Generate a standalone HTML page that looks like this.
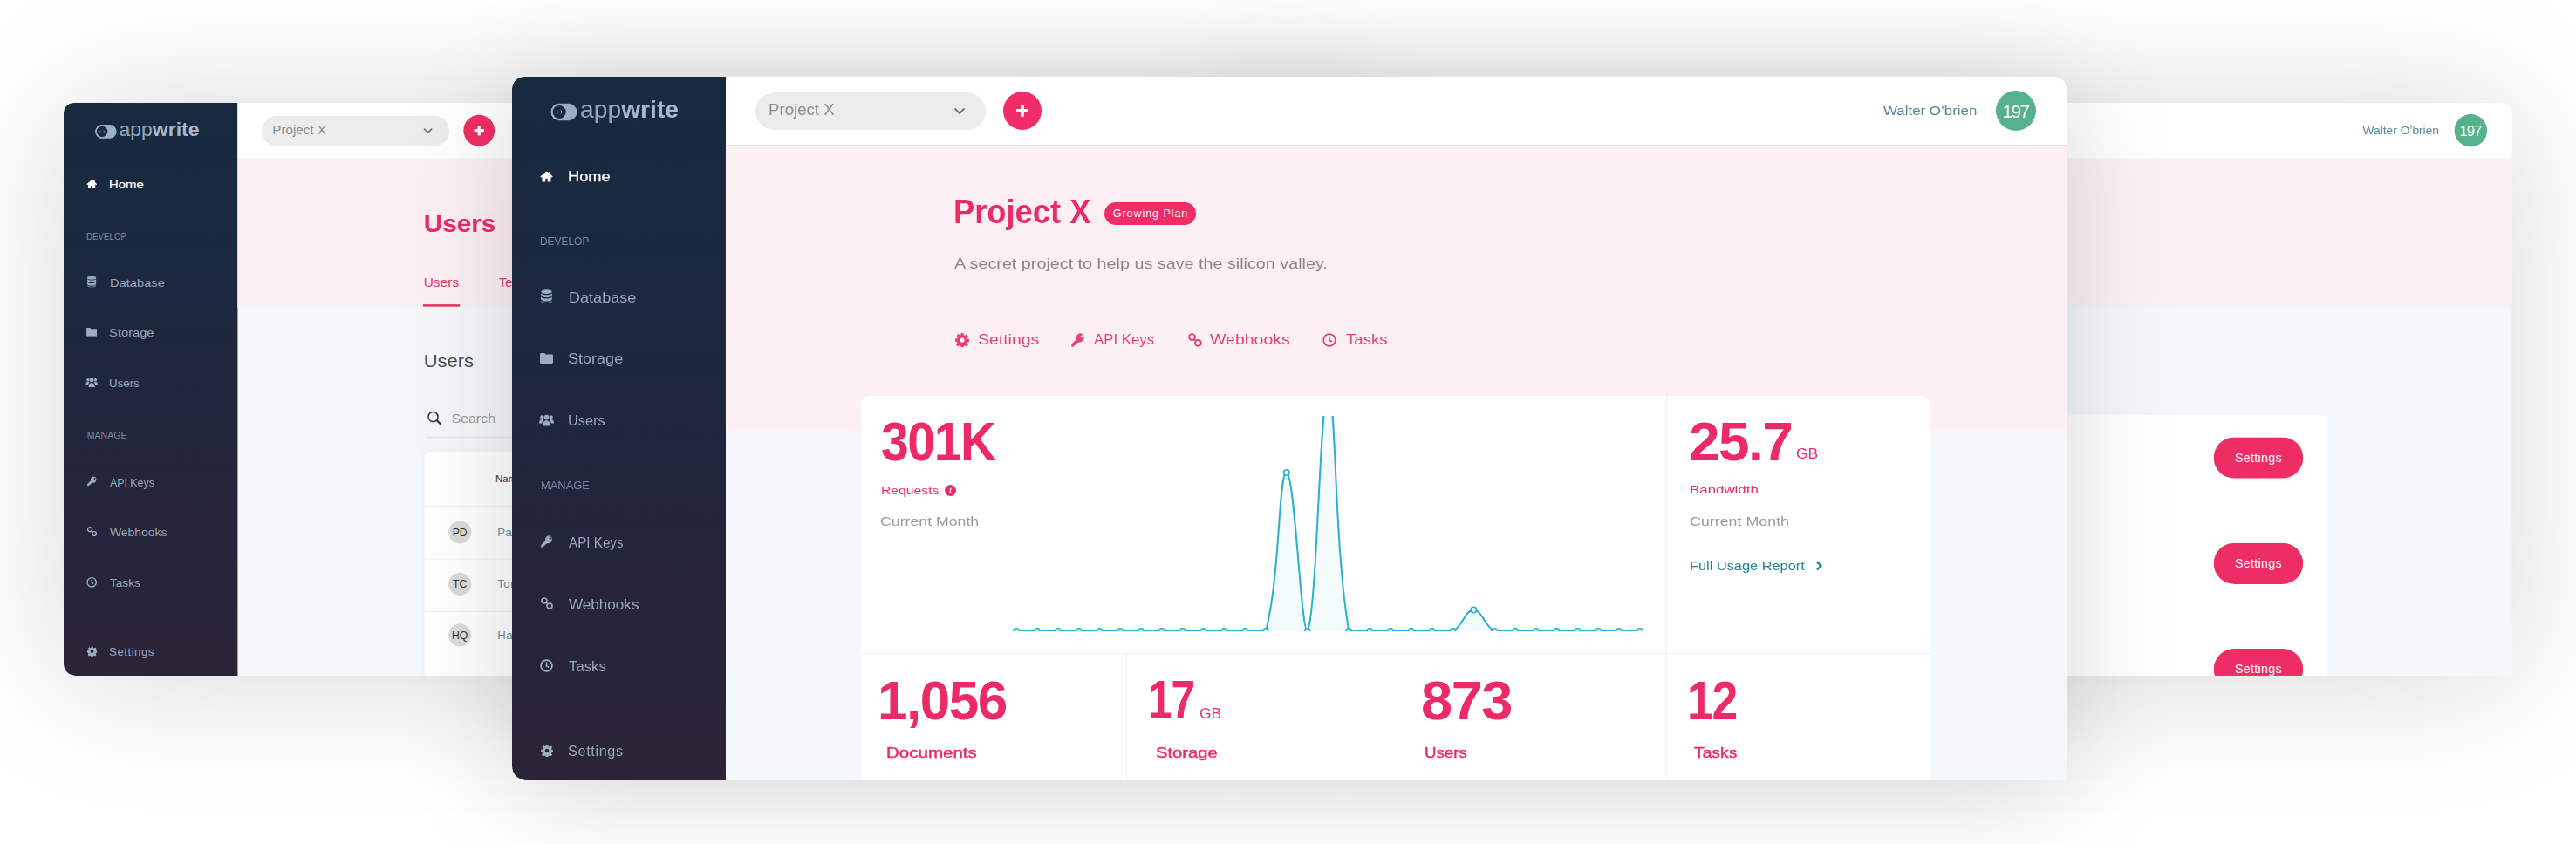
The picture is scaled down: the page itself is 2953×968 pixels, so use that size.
<!DOCTYPE html>
<html><head><meta charset="utf-8">
<style>
*{box-sizing:border-box;margin:0;padding:0}
html,body{width:2953px;height:968px;overflow:hidden;background:#fff;font-family:"Liberation Sans",Arial,sans-serif}
.win{position:absolute;width:1782px;height:807px;overflow:hidden;border-radius:14px 14px 0 16px;background:#f5f8fb;box-shadow:0 12px 130px rgba(0,0,0,.16)}
.back{box-shadow:0 6px 200px rgba(0,0,0,.155)}
.back{transform:scale(.814);transform-origin:0 0}
.side{position:absolute;left:0;top:0;width:245px;height:807px;border-radius:14px 0 0 16px;background:linear-gradient(180deg,#172a40 0%,#1c283d 35%,#242539 70%,#2c2437 100%);overflow:hidden}
.hdr{position:absolute;left:245px;top:0;right:0;height:79px;background:#fff;border-bottom:1px solid #e6e2e4;border-radius:0 14px 0 0}
.band{position:absolute;left:245px;right:0;top:79px;background:#fdf0f4}
.t{position:absolute;white-space:nowrap;line-height:1}
.logo{position:absolute;left:44px;top:30px}
.pill{position:absolute;left:34px;top:18px;width:264px;height:43px;border-radius:22px;background:#ececec}
.plus{position:absolute;left:318px;top:17px;width:44px;height:44px;border-radius:50%;background:#f02e65}
.plus:before{content:"";position:absolute;left:15px;top:20px;width:14px;height:4px;background:#fff;border-radius:1px}
.plus:after{content:"";position:absolute;left:20px;top:15px;width:4px;height:14px;background:#fff;border-radius:1px}
.av{position:absolute;left:1456px;top:16px;width:46px;height:46px;border-radius:50%;background:#58b18d;color:#fff;font-size:21px;text-align:center;line-height:47px;letter-spacing:-1.6px;text-indent:-1px}
.pink{color:#e92a63}
.card{position:absolute;background:#fff;border-radius:10px 10px 0 0}
.card>div{position:absolute}
.vd{width:1px;background:#f1f1f3}
.hd{height:1px;background:#f1f1f3}
.avs{position:absolute;left:34px;width:32px;height:32px;border-radius:50%;background:#dcdcdc;color:#333;font-size:15px;line-height:32px;text-align:center}
.nm{left:103px;font-size:16px;color:#5c939b;letter-spacing:.3px}
.sbtn{position:absolute;left:854px;width:126px;height:58px;border-radius:29px;background:#ee2d65;color:#fff;font-size:17.5px;line-height:58px;text-align:center;letter-spacing:.4px}
</style></head>
<body>
<div class="win back" id="bl" style="left:73px;top:118px">
<div class="side">
<svg class="logo" width="31" height="21" viewBox="0 0 31 21"><rect x="0.5" y="0.8" width="30" height="19.4" rx="9.7" fill="#9aafc3"/><circle cx="10.2" cy="10.5" r="8.6" fill="#172a3f" stroke="#9aafc3" stroke-width="2"/><path d="M8.6 8.6l-1.6 1.9 1.6 1.9M11.8 8.6l1.6 1.9-1.6 1.9" fill="none" stroke="#9aafc3" stroke-width="0.9"/></svg>
<div class="t" id="b_appwrite" style="left:78.1px;top:24.8px;font-size:27px;letter-spacing:0.00px;color:#a6b8c9;transform:scaleX(1.0461);transform-origin:0 0;"><span style="color:#93a7bb">app</span><b>write</b></div>
<div class="t" id="b_Home" style="left:64.1px;top:106.5px;font-size:15.6px;letter-spacing:0.00px;color:#fff;transform:scaleX(1.1700);transform-origin:0 0;-webkit-text-stroke:.25px #fff;">Home</div>
<svg style="position:absolute;left:32.0px;top:107.5px" width="15" height="13" viewBox="0 0 15 13"><path d="M7.5 0.5L0.3 6.6l1 1.1 1.2-1V12.5h3.8V8.8h2.4v3.7h3.8V6.7l1.2 1 1-1.1L12 3.6V1h-2v1L7.5 0.5z" fill="#fff"/></svg><div class="t" id="b_DEVELOP" style="left:32.1px;top:182.9px;font-size:12.5px;letter-spacing:0.00px;color:#7a899e;transform:scaleX(0.9540);transform-origin:0 0;">DEVELOP</div>
<div class="t" id="b_Database" style="left:65.1px;top:245.8px;font-size:15.6px;letter-spacing:0.00px;color:#97a7bb;transform:scaleX(1.1579);transform-origin:0 0;">Database</div>
<svg style="position:absolute;left:33.0px;top:244.0px" width="13" height="16" viewBox="0 0 13 16"><ellipse cx="6.5" cy="2.6" rx="6.3" ry="2.4" fill="#9dadc0"/><path d="M0.2 4.3c1 1.4 3.5 2 6.3 2s5.3-.6 6.3-2V7c-1 1.4-3.5 2-6.3 2S1.2 8.4.2 7z M0.2 8.6c1 1.4 3.5 2 6.3 2s5.3-.6 6.3-2v2.8c-1 1.4-3.5 2-6.3 2s-5.3-.6-6.3-2z M0.2 12.9c1 1.4 3.5 2 6.3 2s5.3-.6 6.3-2v.6c0 1.3-2.8 2.4-6.3 2.4S.2 14.8.2 13.5z" fill="#9dadc0"/></svg><div class="t" id="b_Storage" style="left:64.1px;top:315.5px;font-size:15.6px;letter-spacing:0.00px;color:#97a7bb;transform:scaleX(1.1568);transform-origin:0 0;">Storage</div>
<svg style="position:absolute;left:32.0px;top:317.0px" width="15" height="12" viewBox="0 0 15 12"><path d="M0 1.2C0 .5.5 0 1.2 0h4l1.5 1.6h7.1c.7 0 1.2.5 1.2 1.2v8c0 .7-.5 1.2-1.2 1.2H1.2C.5 12 0 11.5 0 10.8z" fill="#9dadc0"/></svg><div class="t" id="b_Users" style="left:64.1px;top:386.5px;font-size:15.6px;letter-spacing:0.00px;color:#97a7bb;transform:scaleX(1.0443);transform-origin:0 0;">Users</div>
<svg style="position:absolute;left:31.0px;top:387.0px" width="17" height="14" viewBox="0 0 17 14"><circle cx="8.5" cy="3.6" r="2.9" fill="#9dadc0"/><circle cx="3.3" cy="3.3" r="2.1" fill="#9dadc0"/><circle cx="13.7" cy="3.3" r="2.1" fill="#9dadc0"/><path d="M4 13.5c0-3.6 1.6-6.3 4.5-6.3S13 9.9 13 13.5z M0 10.5c0-2.6 1-4.6 3.3-4.6.9 0 1.6.3 2 .7-1.1 1-1.7 2.5-2 3.9z M17 10.5c0-2.6-1-4.6-3.3-4.6-.9 0-1.6.3-2 .7 1.1 1 1.7 2.5 2 3.9z" fill="#9dadc0"/></svg><div class="t" id="b_MANAGE" style="left:32.7px;top:463.0px;font-size:12.5px;letter-spacing:0.00px;color:#7a899e;transform:scaleX(1.0323);transform-origin:0 0;">MANAGE</div>
<div class="t" id="b_APIKeys" style="left:65.0px;top:526.8px;font-size:15.6px;letter-spacing:0.00px;color:#97a7bb;transform:scaleX(0.9756);transform-origin:0 0;">API Keys</div>
<svg style="position:absolute;left:32.5px;top:526.0px" width="14" height="14" viewBox="0 0 14 14"><path d="M9.3 0.3a4.3 4.3 0 0 0-4 5.8L0.3 11.1v2.6h2.4l.3-1.4 1.5-.3.3-1.5 1.4-.3 1-1a4.3 4.3 0 1 0 2.1-8.9z M10.6 2.2a1.2 1.2 0 1 1 0 2.4 1.2 1.2 0 0 1 0-2.4z" fill="#9dadc0" fill-rule="evenodd"/></svg><div class="t" id="b_Webhooks" style="left:65.0px;top:597.8px;font-size:15.6px;letter-spacing:0.00px;color:#97a7bb;transform:scaleX(1.0959);transform-origin:0 0;">Webhooks</div>
<svg style="position:absolute;left:32.5px;top:597.0px" width="14" height="14" viewBox="0 0 14 14"><g fill="none" stroke="#9dadc0" stroke-width="1.7"><circle cx="4" cy="4" r="3"/><circle cx="10" cy="10" r="3"/><path d="M6 6l2 2"/></g></svg><div class="t" id="b_Tasks" style="left:65.0px;top:668.7px;font-size:15.6px;letter-spacing:0.00px;color:#97a7bb;transform:scaleX(1.0759);transform-origin:0 0;">Tasks</div>
<svg style="position:absolute;left:32.0px;top:667.5px" width="15" height="15" viewBox="0 0 15 15"><circle cx="7.5" cy="7.5" r="6.4" fill="none" stroke="#9dadc0" stroke-width="1.7"/><path d="M7.5 3.6v4.2l2.6 1.6" fill="none" stroke="#9dadc0" stroke-width="1.6"/></svg><div class="t" id="b_Settings" style="left:64.0px;top:765.6px;font-size:15.6px;letter-spacing:0.60px;color:#97a7bb;transform:scaleX(1.0426);transform-origin:0 0;">Settings</div>
<svg style="position:absolute;left:32.5px;top:765.6px" width="14" height="14" viewBox="0 0 16 16"><path d="M6.6 0h2.8l.4 2.2 1.3.6 1.9-1.3 2 2-1.3 1.9.6 1.3 2.2.4v2.8l-2.2.4-.6 1.3 1.3 1.9-2 2-1.9-1.3-1.3.6-.4 2.2H6.6l-.4-2.2-1.3-.6-1.9 1.3-2-2 1.3-1.9-.6-1.3L0 9.4V6.6l2.2-.4.6-1.3L1.5 3l2-2 1.9 1.3 1.3-.6z M8 5.4a2.6 2.6 0 1 0 0 5.2 2.6 2.6 0 0 0 0-5.2z" fill="#9dadc0" fill-rule="evenodd"/></svg></div>
<div class="hdr">
<div class="pill"></div>
<div class="t" id="b_pillText" style="left:49.4px;top:30.2px;font-size:17.5px;letter-spacing:0.00px;color:#8c8c8c;transform:scaleX(1.0646);transform-origin:0 0;">Project X</div>
<svg style="position:absolute;left:261px;top:35px" width="14" height="9" viewBox="0 0 14 9"><path d="M1.5 1.5l5.5 5.5 5.5-5.5" fill="none" stroke="#7a7a7a" stroke-width="2.2"/></svg>
<div class="plus"></div>
<div class="t" id="b_Walter" style="left:1327.1px;top:31.3px;font-size:15.2px;letter-spacing:0.00px;color:#588891;transform:scaleX(1.1122);transform-origin:0 0;">Walter O’brien</div>
<div class="av">197</div>
</div>
<div class="band" style="height:209px;background:linear-gradient(180deg,#fdf0f4 0%,#fdf0f4 92%,#f8f3f7 100%)"></div>
<div class="t" id="bl_Title" style="left:507.0px;top:152.9px;font-size:34.5px;letter-spacing:0.00px;color:#ec2a66;font-weight:bold;transform:scaleX(1.0592);transform-origin:0 0;">Users</div>
<div class="t" id="bl_Tab" style="left:507.0px;top:245.0px;font-size:17.9px;letter-spacing:0.00px;color:#e8366b;transform:scaleX(1.0596);transform-origin:0 0;">Users</div>
<div style="position:absolute;left:506px;top:284px;width:52px;height:3px;background:#ec2d64"></div>
<div class="t" id="bl_Te" style="left:613.0px;top:245.0px;font-size:17.9px;letter-spacing:0.00px;color:#e8366b;">Teams</div>
<div class="t" id="bl_Head" style="left:506.9px;top:351.7px;font-size:24px;letter-spacing:0.00px;color:#4c4e57;transform:scaleX(1.1255);transform-origin:0 0;">Users</div>
<svg style="position:absolute;left:512px;top:434px" width="21" height="20" viewBox="0 0 21 20"><circle cx="8.3" cy="8.3" r="6.8" fill="none" stroke="#333" stroke-width="1.8"/><path d="M13.3 13.3l5.5 5.5" stroke="#333" stroke-width="2.6"/></svg>
<div class="t" id="bl_Search" style="left:546.4px;top:435.5px;font-size:18px;letter-spacing:0.00px;color:#9a9a9a;transform:scaleX(1.0898);transform-origin:0 0;">Search</div>
<div style="position:absolute;left:509px;top:471px;width:600px;height:1px;background:#d7d9de"></div>
<div style="position:absolute;left:508px;top:491px;width:900px;height:330px;background:#fff;border-radius:10px 10px 0 0;box-shadow:0 2px 10px rgba(0,0,0,.03)">
<div style="position:absolute;left:0;right:0;top:77px;height:1px;background:#eee"></div><div style="position:absolute;left:0;right:0;top:151px;height:1px;background:#eee"></div><div style="position:absolute;left:0;right:0;top:225px;height:1px;background:#eee"></div><div style="position:absolute;left:0;right:0;top:299px;height:1px;background:#eee"></div>
<div class="avs" style="top:98px">PD</div><div class="avs" style="top:171px">TC</div><div class="avs" style="top:243px">HQ</div>
</div>
<div class="t" id="bl_Name" style="left:608.0px;top:522.0px;font-size:14px;letter-spacing:0.00px;color:#333;">Name</div>
<div class="t" id="bl_nm0" style="left:611.0px;top:597.3px;font-size:16px;letter-spacing:0.60px;color:#5c939b;">Paul Davis</div>
<div class="t" id="bl_nm1" style="left:611.0px;top:670.3px;font-size:16px;letter-spacing:0.60px;color:#5c939b;">Tom Cooper</div>
<div class="t" id="bl_nm2" style="left:611.0px;top:742.3px;font-size:16px;letter-spacing:0.60px;color:#5c939b;">Harry Quinn</div>
</div>
<div class="win back" id="br" style="left:1429px;top:118px">
<div class="hdr">
<div class="pill"></div>
<div class="t" id="r_pillText" style="left:49.4px;top:30.2px;font-size:17.5px;letter-spacing:0.00px;color:#8c8c8c;transform:scaleX(1.0646);transform-origin:0 0;">Project X</div>
<svg style="position:absolute;left:261px;top:35px" width="14" height="9" viewBox="0 0 14 9"><path d="M1.5 1.5l5.5 5.5 5.5-5.5" fill="none" stroke="#7a7a7a" stroke-width="2.2"/></svg>
<div class="plus"></div>
<div class="t" id="r_Walter" style="left:1327.1px;top:31.3px;font-size:15.2px;letter-spacing:0.00px;color:#588891;transform:scaleX(1.1122);transform-origin:0 0;">Walter O’brien</div>
<div class="av">197</div>
</div>
<div class="band" style="height:209px;background:linear-gradient(180deg,#fdf0f4 0%,#fdf0f4 92%,#f8f3f7 100%)"></div>
<div style="position:absolute;left:508px;top:440px;width:1014px;height:400px;background:#fff;border-radius:10px 10px 0 0">
 <div class="sbtn" style="top:31px">Settings</div>
 <div class="sbtn" style="top:180px">Settings</div>
 <div class="sbtn" style="top:329px">Settings</div>
</div>
</div>
<div class="win" id="mw" style="left:587px;top:88px">
<div class="side">
<svg class="logo" width="31" height="21" viewBox="0 0 31 21"><rect x="0.5" y="0.8" width="30" height="19.4" rx="9.7" fill="#9aafc3"/><circle cx="10.2" cy="10.5" r="8.6" fill="#172a3f" stroke="#9aafc3" stroke-width="2"/><path d="M8.6 8.6l-1.6 1.9 1.6 1.9M11.8 8.6l1.6 1.9-1.6 1.9" fill="none" stroke="#9aafc3" stroke-width="0.9"/></svg>
<div class="t" id="appwrite" style="left:78.1px;top:24.8px;font-size:27px;letter-spacing:0.00px;color:#a6b8c9;transform:scaleX(1.0461);transform-origin:0 0;"><span style="color:#93a7bb">app</span><b>write</b></div>
<div class="t" id="Home" style="left:64.1px;top:106.5px;font-size:15.6px;letter-spacing:0.00px;color:#fff;transform:scaleX(1.1700);transform-origin:0 0;-webkit-text-stroke:.25px #fff;">Home</div>
<svg style="position:absolute;left:32.0px;top:107.5px" width="15" height="13" viewBox="0 0 15 13"><path d="M7.5 0.5L0.3 6.6l1 1.1 1.2-1V12.5h3.8V8.8h2.4v3.7h3.8V6.7l1.2 1 1-1.1L12 3.6V1h-2v1L7.5 0.5z" fill="#fff"/></svg><div class="t" id="DEVELOP" style="left:32.1px;top:182.9px;font-size:12.5px;letter-spacing:0.00px;color:#7a899e;transform:scaleX(0.9540);transform-origin:0 0;">DEVELOP</div>
<div class="t" id="Database" style="left:65.1px;top:245.8px;font-size:15.6px;letter-spacing:0.00px;color:#97a7bb;transform:scaleX(1.1579);transform-origin:0 0;">Database</div>
<svg style="position:absolute;left:33.0px;top:244.0px" width="13" height="16" viewBox="0 0 13 16"><ellipse cx="6.5" cy="2.6" rx="6.3" ry="2.4" fill="#9dadc0"/><path d="M0.2 4.3c1 1.4 3.5 2 6.3 2s5.3-.6 6.3-2V7c-1 1.4-3.5 2-6.3 2S1.2 8.4.2 7z M0.2 8.6c1 1.4 3.5 2 6.3 2s5.3-.6 6.3-2v2.8c-1 1.4-3.5 2-6.3 2s-5.3-.6-6.3-2z M0.2 12.9c1 1.4 3.5 2 6.3 2s5.3-.6 6.3-2v.6c0 1.3-2.8 2.4-6.3 2.4S.2 14.8.2 13.5z" fill="#9dadc0"/></svg><div class="t" id="Storage" style="left:64.1px;top:315.5px;font-size:15.6px;letter-spacing:0.00px;color:#97a7bb;transform:scaleX(1.1568);transform-origin:0 0;">Storage</div>
<svg style="position:absolute;left:32.0px;top:317.0px" width="15" height="12" viewBox="0 0 15 12"><path d="M0 1.2C0 .5.5 0 1.2 0h4l1.5 1.6h7.1c.7 0 1.2.5 1.2 1.2v8c0 .7-.5 1.2-1.2 1.2H1.2C.5 12 0 11.5 0 10.8z" fill="#9dadc0"/></svg><div class="t" id="Users" style="left:64.1px;top:386.5px;font-size:15.6px;letter-spacing:0.00px;color:#97a7bb;transform:scaleX(1.0443);transform-origin:0 0;">Users</div>
<svg style="position:absolute;left:31.0px;top:387.0px" width="17" height="14" viewBox="0 0 17 14"><circle cx="8.5" cy="3.6" r="2.9" fill="#9dadc0"/><circle cx="3.3" cy="3.3" r="2.1" fill="#9dadc0"/><circle cx="13.7" cy="3.3" r="2.1" fill="#9dadc0"/><path d="M4 13.5c0-3.6 1.6-6.3 4.5-6.3S13 9.9 13 13.5z M0 10.5c0-2.6 1-4.6 3.3-4.6.9 0 1.6.3 2 .7-1.1 1-1.7 2.5-2 3.9z M17 10.5c0-2.6-1-4.6-3.3-4.6-.9 0-1.6.3-2 .7 1.1 1 1.7 2.5 2 3.9z" fill="#9dadc0"/></svg><div class="t" id="MANAGE" style="left:32.7px;top:463.0px;font-size:12.5px;letter-spacing:0.00px;color:#7a899e;transform:scaleX(1.0323);transform-origin:0 0;">MANAGE</div>
<div class="t" id="APIKeys" style="left:65.0px;top:526.8px;font-size:15.6px;letter-spacing:0.00px;color:#97a7bb;transform:scaleX(0.9756);transform-origin:0 0;">API Keys</div>
<svg style="position:absolute;left:32.5px;top:526.0px" width="14" height="14" viewBox="0 0 14 14"><path d="M9.3 0.3a4.3 4.3 0 0 0-4 5.8L0.3 11.1v2.6h2.4l.3-1.4 1.5-.3.3-1.5 1.4-.3 1-1a4.3 4.3 0 1 0 2.1-8.9z M10.6 2.2a1.2 1.2 0 1 1 0 2.4 1.2 1.2 0 0 1 0-2.4z" fill="#9dadc0" fill-rule="evenodd"/></svg><div class="t" id="Webhooks" style="left:65.0px;top:597.8px;font-size:15.6px;letter-spacing:0.00px;color:#97a7bb;transform:scaleX(1.0959);transform-origin:0 0;">Webhooks</div>
<svg style="position:absolute;left:32.5px;top:597.0px" width="14" height="14" viewBox="0 0 14 14"><g fill="none" stroke="#9dadc0" stroke-width="1.7"><circle cx="4" cy="4" r="3"/><circle cx="10" cy="10" r="3"/><path d="M6 6l2 2"/></g></svg><div class="t" id="Tasks" style="left:65.0px;top:668.7px;font-size:15.6px;letter-spacing:0.00px;color:#97a7bb;transform:scaleX(1.0759);transform-origin:0 0;">Tasks</div>
<svg style="position:absolute;left:32.0px;top:667.5px" width="15" height="15" viewBox="0 0 15 15"><circle cx="7.5" cy="7.5" r="6.4" fill="none" stroke="#9dadc0" stroke-width="1.7"/><path d="M7.5 3.6v4.2l2.6 1.6" fill="none" stroke="#9dadc0" stroke-width="1.6"/></svg><div class="t" id="Settings" style="left:64.0px;top:765.6px;font-size:15.6px;letter-spacing:0.60px;color:#97a7bb;transform:scaleX(1.0426);transform-origin:0 0;">Settings</div>
<svg style="position:absolute;left:32.5px;top:765.6px" width="14" height="14" viewBox="0 0 16 16"><path d="M6.6 0h2.8l.4 2.2 1.3.6 1.9-1.3 2 2-1.3 1.9.6 1.3 2.2.4v2.8l-2.2.4-.6 1.3 1.3 1.9-2 2-1.9-1.3-1.3.6-.4 2.2H6.6l-.4-2.2-1.3-.6-1.9 1.3-2-2 1.3-1.9-.6-1.3L0 9.4V6.6l2.2-.4.6-1.3L1.5 3l2-2 1.9 1.3 1.3-.6z M8 5.4a2.6 2.6 0 1 0 0 5.2 2.6 2.6 0 0 0 0-5.2z" fill="#9dadc0" fill-rule="evenodd"/></svg></div>
<div class="hdr">
<div class="pill"></div>
<div class="t" id="pillText" style="left:49.4px;top:30.2px;font-size:17.5px;letter-spacing:0.00px;color:#8c8c8c;transform:scaleX(1.0646);transform-origin:0 0;">Project X</div>
<svg style="position:absolute;left:261px;top:35px" width="14" height="9" viewBox="0 0 14 9"><path d="M1.5 1.5l5.5 5.5 5.5-5.5" fill="none" stroke="#7a7a7a" stroke-width="2.2"/></svg>
<div class="plus"></div>
<div class="t" id="Walter" style="left:1327.1px;top:31.3px;font-size:15.2px;letter-spacing:0.00px;color:#588891;transform:scaleX(1.1122);transform-origin:0 0;">Walter O’brien</div>
<div class="av">197</div>
</div>
<div class="band" style="height:333px;background:linear-gradient(180deg,#fdf0f4 0,#fdf0f4 322px,#f5f8fb 333px)"></div>
<div class="t" id="Title" style="left:505.6px;top:136.3px;font-size:38px;letter-spacing:0.00px;color:#ec2a66;font-weight:bold;transform:scaleX(0.9554);transform-origin:0 0;">Project X</div>
<div class="t" style="left:679px;top:144px;width:105px;height:26px;border-radius:13px;background:#f02e65;color:#fff;font-size:12.5px;line-height:26px;text-align:center;letter-spacing:.95px;padding-left:1px">Growing Plan</div>
<div class="t" id="Desc" style="left:507.4px;top:205.8px;font-size:17px;letter-spacing:0.00px;color:#8a868c;transform:scaleX(1.1619);transform-origin:0 0;">A secret project to help us save the silicon valley.</div>
<svg style="position:absolute;left:508px;top:293.5px" width="16" height="16" viewBox="0 0 16 16"><path d="M6.6 0h2.8l.4 2.2 1.3.6 1.9-1.3 2 2-1.3 1.9.6 1.3 2.2.4v2.8l-2.2.4-.6 1.3 1.3 1.9-2 2-1.9-1.3-1.3.6-.4 2.2H6.6l-.4-2.2-1.3-.6-1.9 1.3-2-2 1.3-1.9-.6-1.3L0 9.4V6.6l2.2-.4.6-1.3L1.5 3l2-2 1.9 1.3 1.3-.6z M8 5.4a2.6 2.6 0 1 0 0 5.2 2.6 2.6 0 0 0 0-5.2z" fill="#e8407a" fill-rule="evenodd"/></svg><div class="t" id="lSettings" style="left:533.7px;top:293.4px;font-size:17px;letter-spacing:0.00px;color:#e8407a;transform:scaleX(1.1442);transform-origin:0 0;">Settings</div>
<svg style="position:absolute;left:641px;top:293.5px" width="16" height="16" viewBox="0 0 14 14"><path d="M9.3 0.3a4.3 4.3 0 0 0-4 5.8L0.3 11.1v2.6h2.4l.3-1.4 1.5-.3.3-1.5 1.4-.3 1-1a4.3 4.3 0 1 0 2.1-8.9z M10.6 2.2a1.2 1.2 0 1 1 0 2.4 1.2 1.2 0 0 1 0-2.4z" fill="#e8407a" fill-rule="evenodd"/></svg><div class="t" id="lAPI" style="left:667.3px;top:293.4px;font-size:17px;letter-spacing:0.00px;color:#e8407a;transform:scaleX(0.9890);transform-origin:0 0;">API Keys</div>
<svg style="position:absolute;left:774.5px;top:293.5px" width="16" height="16" viewBox="0 0 14 14"><g fill="none" stroke="#e8407a" stroke-width="1.7"><circle cx="4" cy="4" r="3"/><circle cx="10" cy="10" r="3"/><path d="M6 6l2 2"/></g></svg><div class="t" id="lWeb" style="left:800.3px;top:293.4px;font-size:17px;letter-spacing:0.00px;color:#e8407a;transform:scaleX(1.1478);transform-origin:0 0;">Webhooks</div>
<svg style="position:absolute;left:929px;top:293.5px" width="16" height="16" viewBox="0 0 15 15"><circle cx="7.5" cy="7.5" r="6.4" fill="none" stroke="#e8407a" stroke-width="1.7"/><path d="M7.5 3.6v4.2l2.6 1.6" fill="none" stroke="#e8407a" stroke-width="1.6"/></svg><div class="t" id="lTasks" style="left:955.5px;top:293.4px;font-size:17px;letter-spacing:0.00px;color:#e8407a;transform:scaleX(1.0947);transform-origin:0 0;">Tasks</div>
<div class="card" style="left:400px;top:366px;width:1225px;height:441px">
 <div class="vd" style="left:923px;top:0;height:441px"></div>
 <div class="hd" style="left:0;top:295px;width:1226px"></div>
 <div class="vd" style="left:304px;top:295px;height:146px"></div>
</div>
<div class="t" id="301K" style="left:423.0px;top:386.6px;font-size:63.5px;letter-spacing:-1.50px;color:#ec2a66;font-weight:bold;transform:scaleX(0.8980);transform-origin:0 0;">301K</div>
<div class="t" id="Requests" style="left:422.6px;top:467.7px;font-size:13.3px;letter-spacing:0.00px;color:#ec2a66;transform:scaleX(1.1817);transform-origin:0 0;">Requests</div>
<div style="position:absolute;left:496px;top:468px;width:13px;height:13px;border-radius:50%;background:#ec2a66;color:#fff;font:bold italic 9.5px/13px 'Liberation Serif',serif;text-align:center">i</div>
<div class="t" id="CurMonth1" style="left:422.4px;top:502.9px;font-size:14.8px;letter-spacing:0.00px;color:#9b9b9b;transform:scaleX(1.1968);transform-origin:0 0;">Current Month</div>
<div class="t" id="25.7" style="left:1348.6px;top:387.1px;font-size:63.5px;letter-spacing:-1.50px;color:#ec2a66;font-weight:bold;transform:scaleX(1.0067);transform-origin:0 0;">25.7</div>
<div class="t" id="GB1" style="left:1471.6px;top:423.6px;font-size:17px;letter-spacing:0.00px;color:#ec2a66;transform:scaleX(1.0232);transform-origin:0 0;">GB</div>
<div class="t" id="Bandwidth" style="left:1349.6px;top:467.1px;font-size:13.3px;letter-spacing:0.00px;color:#ec2a66;transform:scaleX(1.2685);transform-origin:0 0;">Bandwidth</div>
<div class="t" id="CurMonth2" style="left:1349.6px;top:502.9px;font-size:14.8px;letter-spacing:0.00px;color:#9b9b9b;transform:scaleX(1.2057);transform-origin:0 0;">Current Month</div>
<div class="t" id="FullUsage" style="left:1349.6px;top:553.0px;font-size:15.5px;letter-spacing:0.00px;color:#22838c;transform:scaleX(1.0546);transform-origin:0 0;">Full Usage Report</div>
<svg style="position:absolute;left:1494px;top:555px" width="9" height="12" viewBox="0 0 9 12"><path d="M2 1.5l4.5 4.5L2 10.5" fill="none" stroke="#22838c" stroke-width="2.4"/></svg>
<div class="t" id="1056" style="left:419.3px;top:684.1px;font-size:63.5px;letter-spacing:-1.50px;color:#ec2a66;font-weight:bold;transform:scaleX(0.9763);transform-origin:0 0;">1,056</div>
<div class="t" id="Documents" style="left:428.6px;top:768.3px;font-size:15.7px;letter-spacing:0.00px;color:#ec2a66;transform:scaleX(1.3082);transform-origin:0 0;-webkit-text-stroke:.4px #ec2a66;">Documents</div>
<div class="t" id="17" style="left:729.0px;top:683.3px;font-size:63.5px;letter-spacing:-1.50px;color:#ec2a66;font-weight:bold;transform:scaleX(0.7807);transform-origin:0 0;">17</div>
<div class="t" id="GB2" style="left:787.8px;top:722.3px;font-size:17px;letter-spacing:0.00px;color:#ec2a66;transform:scaleX(1.0232);transform-origin:0 0;">GB</div>
<div class="t" id="Storage2" style="left:737.7px;top:767.7px;font-size:15.7px;letter-spacing:0.00px;color:#ec2a66;transform:scaleX(1.2855);transform-origin:0 0;-webkit-text-stroke:.4px #ec2a66;">Storage</div>
<div class="t" id="873" style="left:1041.7px;top:684.2px;font-size:63.5px;letter-spacing:-1.50px;color:#ec2a66;font-weight:bold;transform:scaleX(1.0250);transform-origin:0 0;">873</div>
<div class="t" id="Users2" style="left:1046.1px;top:767.7px;font-size:15.7px;letter-spacing:0.00px;color:#ec2a66;transform:scaleX(1.1924);transform-origin:0 0;-webkit-text-stroke:.4px #ec2a66;">Users</div>
<div class="t" id="12" style="left:1347.3px;top:684.2px;font-size:63.5px;letter-spacing:-1.50px;color:#ec2a66;font-weight:bold;transform:scaleX(0.8430);transform-origin:0 0;">12</div>
<div class="t" id="Tasks2" style="left:1355.4px;top:767.7px;font-size:15.7px;letter-spacing:0.00px;color:#ec2a66;transform:scaleX(1.2286);transform-origin:0 0;-webkit-text-stroke:.4px #ec2a66;">Tasks</div>
<svg style="position:absolute;left:0;top:0" width="1782" height="807"><defs><clipPath id="cc"><rect x="570" y="389" width="740" height="247"/></clipPath></defs><g clip-path="url(#cc)"><path d="M578.0 636.0 C587.5 636.0 592.3 636.0 601.8 636.0 C611.4 636.0 616.1 636.0 625.7 636.0 C635.2 636.0 640.0 636.0 649.5 636.0 C659.0 636.0 663.8 636.0 673.3 636.0 C682.9 636.0 687.6 636.0 697.2 636.0 C706.7 636.0 711.5 636.0 721.0 636.0 C730.5 636.0 735.3 636.0 744.8 636.0 C754.4 636.0 759.1 636.0 768.7 636.0 C778.2 636.0 783.0 636.0 792.5 636.0 C802.0 636.0 806.8 636.0 816.3 636.0 C825.9 636.0 830.6 636.0 840.2 636.0 C849.7 636.0 861.8 636.0 864.0 636.0 C880.9 571.6 878.3 454.0 887.8 454.0 C897.4 454.0 904.1 636.0 911.7 636.0 C923.1 613.7 926.0 361.0 935.5 361.0 C945.0 361.0 941.8 534.7 959.3 636.0 C960.8 636.0 973.6 636.0 983.2 636.0 C992.7 636.0 997.5 636.0 1007.0 636.0 C1016.5 636.0 1021.3 636.0 1030.8 636.0 C1040.4 636.0 1045.1 636.0 1054.7 636.0 C1064.2 636.0 1070.7 636.0 1078.5 636.0 C1089.7 630.2 1092.8 611.5 1102.3 611.5 C1111.9 611.5 1114.9 630.2 1126.2 636.0 C1134.0 636.0 1140.5 636.0 1150.0 636.0 C1159.5 636.0 1164.3 636.0 1173.8 636.0 C1183.4 636.0 1188.1 636.0 1197.7 636.0 C1207.2 636.0 1212.0 636.0 1221.5 636.0 C1231.0 636.0 1235.8 636.0 1245.3 636.0 C1254.9 636.0 1259.6 636.0 1269.2 636.0 C1278.7 636.0 1283.5 636.0 1293.0 636.0 L1293.0 636.0 L578.0 636.0 Z" fill="rgba(41,181,209,.05)"/><path d="M578.0 636.0 C587.5 636.0 592.3 636.0 601.8 636.0 C611.4 636.0 616.1 636.0 625.7 636.0 C635.2 636.0 640.0 636.0 649.5 636.0 C659.0 636.0 663.8 636.0 673.3 636.0 C682.9 636.0 687.6 636.0 697.2 636.0 C706.7 636.0 711.5 636.0 721.0 636.0 C730.5 636.0 735.3 636.0 744.8 636.0 C754.4 636.0 759.1 636.0 768.7 636.0 C778.2 636.0 783.0 636.0 792.5 636.0 C802.0 636.0 806.8 636.0 816.3 636.0 C825.9 636.0 830.6 636.0 840.2 636.0 C849.7 636.0 861.8 636.0 864.0 636.0 C880.9 571.6 878.3 454.0 887.8 454.0 C897.4 454.0 904.1 636.0 911.7 636.0 C923.1 613.7 926.0 361.0 935.5 361.0 C945.0 361.0 941.8 534.7 959.3 636.0 C960.8 636.0 973.6 636.0 983.2 636.0 C992.7 636.0 997.5 636.0 1007.0 636.0 C1016.5 636.0 1021.3 636.0 1030.8 636.0 C1040.4 636.0 1045.1 636.0 1054.7 636.0 C1064.2 636.0 1070.7 636.0 1078.5 636.0 C1089.7 630.2 1092.8 611.5 1102.3 611.5 C1111.9 611.5 1114.9 630.2 1126.2 636.0 C1134.0 636.0 1140.5 636.0 1150.0 636.0 C1159.5 636.0 1164.3 636.0 1173.8 636.0 C1183.4 636.0 1188.1 636.0 1197.7 636.0 C1207.2 636.0 1212.0 636.0 1221.5 636.0 C1231.0 636.0 1235.8 636.0 1245.3 636.0 C1254.9 636.0 1259.6 636.0 1269.2 636.0 C1278.7 636.0 1283.5 636.0 1293.0 636.0" fill="none" stroke="#2ab0cc" stroke-width="2"/><g fill="#e9f7fa" stroke="#2ab0cc" stroke-width="1.6"><circle cx="578.0" cy="636.0" r="3.2"/><circle cx="601.8" cy="636.0" r="3.2"/><circle cx="625.7" cy="636.0" r="3.2"/><circle cx="649.5" cy="636.0" r="3.2"/><circle cx="673.3" cy="636.0" r="3.2"/><circle cx="697.2" cy="636.0" r="3.2"/><circle cx="721.0" cy="636.0" r="3.2"/><circle cx="744.8" cy="636.0" r="3.2"/><circle cx="768.7" cy="636.0" r="3.2"/><circle cx="792.5" cy="636.0" r="3.2"/><circle cx="816.3" cy="636.0" r="3.2"/><circle cx="840.2" cy="636.0" r="3.2"/><circle cx="864.0" cy="636.0" r="3.2"/><circle cx="887.8" cy="454.0" r="3.2"/><circle cx="911.7" cy="636.0" r="3.2"/><circle cx="959.3" cy="636.0" r="3.2"/><circle cx="983.2" cy="636.0" r="3.2"/><circle cx="1007.0" cy="636.0" r="3.2"/><circle cx="1030.8" cy="636.0" r="3.2"/><circle cx="1054.7" cy="636.0" r="3.2"/><circle cx="1078.5" cy="636.0" r="3.2"/><circle cx="1102.3" cy="611.5" r="3.2"/><circle cx="1126.2" cy="636.0" r="3.2"/><circle cx="1150.0" cy="636.0" r="3.2"/><circle cx="1173.8" cy="636.0" r="3.2"/><circle cx="1197.7" cy="636.0" r="3.2"/><circle cx="1221.5" cy="636.0" r="3.2"/><circle cx="1245.3" cy="636.0" r="3.2"/><circle cx="1269.2" cy="636.0" r="3.2"/><circle cx="1293.0" cy="636.0" r="3.2"/></g></g></svg>
</div>
</body></html>
